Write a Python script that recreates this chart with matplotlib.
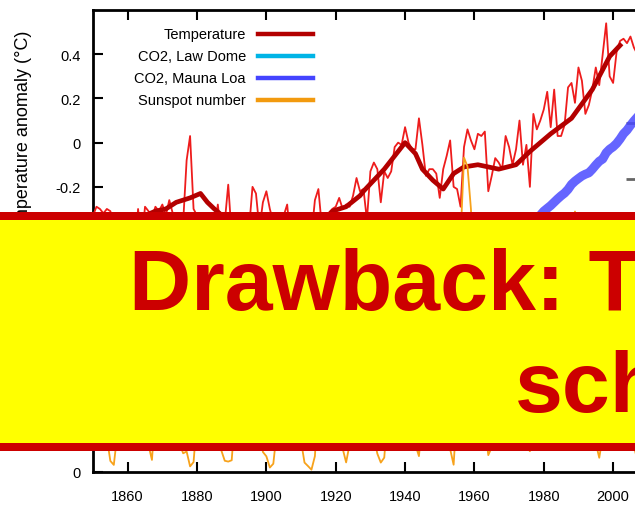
import matplotlib

matplotlib.use("Agg")
import matplotlib.pyplot as plt
from matplotlib.lines import Line2D
from matplotlib.patches import Rectangle
import numpy as np

plt.rcParams.update({
    "font.family": ["Liberation Sans", "DejaVu Sans"],
    "font.size": 10.5,
})

# ── data ──
years = np.arange(1850, 2008)

# annual global temperature anomaly (deg C)
temp = [
    -0.33, -0.29, -0.30, -0.32, -0.30, -0.31, -0.36, -0.45, -0.37, -0.33,   # 1850s
    -0.38, -0.44, -0.51, -0.30, -0.46, -0.29, -0.31, -0.34, -0.29, -0.31,   # 1860s
    -0.28, -0.33, -0.26, -0.32, -0.33, -0.38, -0.36, -0.08, 0.03, -0.30,    # 1870s
    -0.33, -0.32, -0.34, -0.38, -0.42, -0.40, -0.28, -0.42, -0.36, -0.19,   # 1880s
    -0.42, -0.37, -0.46, -0.46, -0.45, -0.39, -0.20, -0.23, -0.39, -0.27,   # 1890s
    -0.22, -0.30, -0.36, -0.43, -0.48, -0.33, -0.28, -0.45, -0.46, -0.48,   # 1900s
    -0.44, -0.45, -0.44, -0.42, -0.26, -0.21, -0.38, -0.44, -0.34, -0.30,   # 1910s
    -0.29, -0.25, -0.30, -0.28, -0.29, -0.24, -0.16, -0.22, -0.21, -0.35,   # 1920s
    -0.13, -0.09, -0.12, -0.27, -0.13, -0.16, -0.13, -0.02, 0.00, -0.01,    # 1930s
    0.07, 0.00, -0.03, -0.03, 0.11, -0.01, -0.15, -0.12, -0.12, -0.14,      # 1940s
    -0.25, -0.12, -0.06, 0.01, -0.20, -0.21, -0.29, -0.02, 0.06, 0.01,      # 1950s
    -0.03, 0.04, 0.03, 0.05, -0.22, -0.15, -0.07, -0.09, -0.12, 0.03,       # 1960s
    -0.02, -0.10, -0.03, 0.10, -0.10, -0.01, -0.20, 0.13, 0.06, 0.10,       # 1970s
    0.15, 0.23, 0.07, 0.24, 0.03, 0.03, 0.08, 0.25, 0.27, 0.18,             # 1980s
    0.34, 0.28, 0.13, 0.17, 0.24, 0.34, 0.26, 0.40, 0.54, 0.30,             # 1990s
    0.27, 0.41, 0.46, 0.47, 0.45, 0.48, 0.43, 0.40,                         # 2000s
]

# smoothed temperature (thick line)
smooth_years = [1850, 1855, 1860, 1865, 1868, 1871, 1874, 1878, 1881, 1883,
                1885, 1888, 1892, 1896, 1900, 1904, 1908, 1912, 1916, 1919,
                1923, 1927, 1928, 1934, 1937, 1940, 1943, 1945, 1948, 1951,
                1954, 1957, 1961, 1967, 1972, 1976, 1982, 1988, 1994, 1999,
                2002]
smooth_temp = [-0.38, -0.36, -0.36, -0.33, -0.31, -0.30, -0.27, -0.25, -0.23, -0.27,
               -0.30, -0.34, -0.36, -0.35, -0.36, -0.40, -0.42, -0.40, -0.36, -0.31,
               -0.29, -0.24, -0.22, -0.12, -0.06, 0.00, -0.05, -0.12, -0.17, -0.21,
               -0.14, -0.11, -0.10, -0.12, -0.10, -0.04, 0.04, 0.11, 0.24, 0.39,
               0.44]

# CO2 (ppm)
law_years = [1850, 1860, 1870, 1880, 1890, 1900, 1910, 1920, 1930, 1940,
             1950, 1960, 1970, 1978]
law_co2 = [285.2, 286.6, 287.5, 290.8, 294.2, 296.0, 299.7, 303.0, 306.5, 310.4,
           311.3, 316.9, 324.1, 331.0]

mlo_years = np.arange(1959, 2008)
mlo_co2 = [315.97, 316.91, 317.64, 318.45, 318.99, 319.62, 320.04, 321.38, 322.16, 323.04,
           324.62, 325.68, 326.32, 327.45, 329.68, 330.18, 331.11, 332.04, 333.83, 335.40,
           336.84, 338.75, 340.11, 341.45, 343.05, 344.65, 346.12, 347.42, 349.19, 351.57,
           353.12, 354.39, 355.61, 356.45, 357.10, 358.83, 360.82, 362.61, 363.73, 366.70,
           368.38, 369.55, 371.14, 373.28, 375.80, 377.52, 379.80, 381.90, 383.79]

# yearly sunspot number
sunspots = [
    66.6, 64.5, 54.1, 39.0, 20.6, 6.7, 4.3, 22.7, 54.8, 93.8,
    95.8, 77.2, 59.1, 44.0, 47.0, 30.5, 16.3, 7.3, 37.6, 74.0,
    139.0, 111.2, 101.6, 66.2, 44.7, 17.0, 11.3, 12.4, 3.4, 6.0,
    32.3, 54.3, 59.7, 63.7, 63.5, 52.2, 25.4, 13.1, 6.8, 6.3,
    7.1, 35.6, 73.0, 85.1, 78.0, 64.0, 41.8, 26.2, 26.7, 12.1,
    9.5, 2.7, 5.0, 24.4, 42.0, 63.5, 53.8, 62.0, 48.5, 43.9,
    18.6, 5.7, 3.6, 1.4, 9.6, 47.4, 57.1, 103.9, 80.6, 63.6,
    37.6, 26.1, 14.2, 5.8, 16.7, 44.3, 63.9, 69.0, 77.8, 64.9,
    35.7, 21.2, 11.1, 5.7, 8.7, 36.1, 79.7, 114.4, 109.6, 88.8,
    67.8, 47.5, 30.6, 16.3, 9.6, 33.2, 92.6, 151.6, 136.3, 134.7,
    83.9, 69.4, 31.5, 13.9, 4.4, 38.0, 141.7, 190.2, 184.8, 159.0,
    112.3, 53.9, 37.6, 27.9, 10.2, 15.1, 47.0, 93.8, 105.9, 105.5,
    104.5, 66.6, 68.9, 38.0, 34.5, 15.5, 12.6, 27.5, 92.5, 155.4,
    154.6, 140.4, 115.9, 66.6, 45.9, 17.9, 13.4, 29.4, 100.2, 157.6,
    142.6, 145.7, 94.3, 54.6, 29.9, 17.5, 8.6, 21.5, 64.3, 93.3,
    119.6, 111.0, 104.0, 63.7, 40.4, 29.8, 15.2, 7.5,
]

temp_ticks = [-1.2, -1.0, -0.8, -0.6, -0.4, -0.2, 0, 0.2, 0.4]
sun_ticks = [0, 50, 100]
co2_ticks = [246, 273, 300, 327, 354, 381]
year_ticks = np.arange(1860, 2001, 20)

legend_labels = ["Temperature", "CO2, Law Dome", "CO2, Mauna Loa", "Sunspot number"]
legend_colors = ["#b30000", "#00b4e6", "#4444ff", "#f29a0e"]

# ── figure ──
W, H = 635, 506
fig = plt.figure(figsize=(W / 100, H / 100), dpi=100)
ax = fig.add_axes([93 / W, 33 / H, 543 / W, 462 / H])

ax.plot(years, temp, color="#ee1c1c", lw=1.3, zorder=3)
ax.plot(smooth_years, smooth_temp, color="#b30000", lw=3.4, zorder=4,
        solid_joinstyle="round")
ax.set_xlim(1850, 2006.6)
ax.set_ylim(-1.49, 0.6)
ax.set_xticks(year_ticks)
ax.set_yticks(temp_ticks)
ax.set_yticklabels([f"{t:g}" for t in temp_ticks])
ax.tick_params(direction="in", length=7, width=1.5, top=True, pad=9,
               labelsize=10.5)
ax.tick_params(axis="x", pad=12)
for s in ax.spines.values():
    s.set_linewidth(2)
ax.spines["right"].set_visible(False)

ax_co2 = ax.twinx()
ax_co2.plot(law_years, law_co2, color="#00b4e6", lw=6)
ax_co2.plot(mlo_years, mlo_co2, color="#4a4aff", lw=6.5, alpha=0.85)
ax_co2.set_ylim(214, 435)
ax_co2.set_yticks(co2_ticks)
ax_co2.tick_params(direction="in", length=7, width=2, color="#666666",
                   labelright=False)
for s in ax_co2.spines.values():
    s.set_visible(False)

ax_sun = ax.twinx()
ax_sun.plot(years, sunspots, color="#f7a21b", lw=1.3)
ax_sun.set_ylim(0, 279.5)
ax_sun.yaxis.tick_left()
ax_sun.set_yticks(sun_ticks)
ax_sun.tick_params(direction="in", length=7, width=1.5, pad=9, labelsize=10.5)
for s in ax_sun.spines.values():
    s.set_visible(False)

# legend drawn by hand, text right-aligned
for i, (lab, col) in enumerate(zip(legend_labels, legend_colors)):
    yy = 1 - (35 + i * 22) / H
    fig.text(246 / W, yy, lab, ha="right", va="center", fontsize=10.5)
    fig.add_artist(Line2D([258 / W, 313 / W], [yy, yy], color=col, lw=3.2,
                          transform=fig.transFigure))

fig.text(24 / W, 1 - 31 / H, "Temperature anomaly (°C)", rotation=90,
         ha="center", va="top", fontsize=13)

# banner across the chart
fig.add_artist(Rectangle((-0.05, 1 - 452 / H), 1.1, 239 / H, facecolor="#cc0000",
                         edgecolor="none", transform=fig.transFigure, zorder=20))
fig.add_artist(Rectangle((-0.05, 1 - 444 / H), 1.1, 223 / H, facecolor="#ffff00",
                         edgecolor="none", transform=fig.transFigure, zorder=21))
fig.text(129 / W, 1 - 310 / H, "Drawback: T", color="#cc0000", fontsize=62,
         fontweight="bold", ha="left", va="baseline", zorder=22)
fig.text(515 / W, 1 - 412 / H, "sch", color="#cc0000", fontsize=62,
         fontweight="bold", ha="left", va="baseline", zorder=22)

fig.savefig("out.png", dpi=100, facecolor="white")
